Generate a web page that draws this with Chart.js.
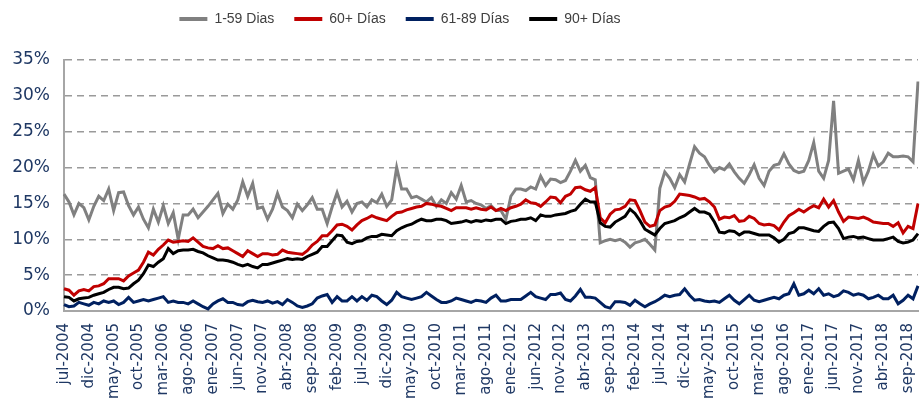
<!DOCTYPE html>
<html>
<head>
<meta charset="utf-8">
<script src="https://cdn.jsdelivr.net/npm/chart.js@4"></script>
<style>
  html, body { margin: 0; padding: 0; background: #fff; }
</style>
</head>
<body>
<canvas id="myChart" width="920" height="409"></canvas>
<script>
// monthly series, jul-2004 .. nov-2018 (values in %)
const meses = ['ene','feb','mar','abr','may','jun','jul','ago','sep','oct','nov','dic'];
const labels = [];
for (let k = 0; k < 173; k++) {
  labels.push(meses[(6 + k) % 12] + '-' + (2004 + Math.floor((6 + k) / 12)));
}

const dias1a59 = [
  16.3,15.2,13.4,15.0,14.4,12.7,14.6,16.0,15.4,17.0,
  14.0,16.5,16.6,14.7,13.4,14.5,12.8,11.6,14.2,12.4,
  14.7,12.2,13.7,10.0,13.4,13.4,14.2,13.0,13.8,14.6,
  15.5,16.4,13.6,14.9,14.2,15.5,18.0,16.0,17.8,14.3,
  14.5,12.8,14.2,16.4,14.5,14.0,13.0,14.9,14.0,14.8,
  15.8,14.2,14.2,12.2,14.5,16.5,14.5,15.3,13.8,15.0,
  15.2,14.5,15.5,15.1,16.3,14.6,15.5,20.0,17.0,17.0,
  15.8,16.0,15.6,15.2,15.8,14.6,15.5,15.0,16.5,15.6,
  17.5,15.2,15.4,15.0,14.8,14.3,14.7,14.0,14.0,12.8,
  16.0,17.0,17.0,16.8,17.3,17.0,18.8,17.5,18.4,18.3,
  17.9,18.2,19.5,21.0,19.5,20.3,18.6,18.3,9.5,9.8,
  10.0,9.8,10.0,9.6,8.9,9.5,9.7,10.0,9.3,8.5,
  17.1,19.4,18.5,17.2,19.0,18.0,20.5,22.9,22.0,21.5,
  20.3,19.4,20.0,19.7,20.5,19.4,18.5,17.8,19.0,20.4,
  18.5,17.5,19.5,20.3,20.5,21.9,20.5,19.6,19.3,19.5,
  21.0,23.5,19.5,18.5,21.0,29.3,19.2,19.5,19.8,18.3,
  21.0,17.9,19.5,21.8,20.2,20.8,22.0,21.5,21.5,21.6,
  21.5,20.8,32.0
];

const dias60mas = [
  3.1,2.9,2.2,2.8,3.0,2.8,3.4,3.5,3.8,4.5,
  4.5,4.5,4.2,4.9,5.3,5.7,6.8,8.2,7.8,8.6,
  9.2,9.9,9.6,9.7,9.8,9.7,10.2,9.6,9.0,8.8,
  8.7,9.1,8.7,8.8,8.4,8.0,7.6,8.4,8.0,7.6,
  8.0,8.0,7.8,7.9,8.5,8.2,8.1,8.0,7.9,8.4,
  9.2,9.7,10.5,10.5,11.2,12.0,12.1,11.8,11.3,12.0,
  12.6,12.9,13.3,13.0,12.8,12.6,13.2,13.7,13.8,14.1,
  14.3,14.5,14.6,15.0,14.9,14.7,14.6,14.3,14.0,14.4,
  14.4,14.4,14.2,14.4,14.2,14.1,14.5,14.0,14.3,14.0,
  14.4,14.6,14.9,15.5,15.1,15.0,14.6,15.2,15.9,15.8,
  15.1,16.0,16.3,17.2,17.3,16.9,16.7,17.2,13.0,12.3,
  13.5,14.1,14.2,14.6,15.5,15.4,14.0,12.4,11.8,12.0,
  14.0,14.5,14.7,15.3,16.3,16.2,16.1,15.9,15.6,15.7,
  15.2,14.5,12.8,13.1,13.0,13.3,12.5,12.6,13.2,12.9,
  12.2,12.0,12.1,11.9,11.3,12.4,13.3,13.7,14.2,13.8,
  14.3,14.7,14.4,15.6,14.5,15.4,13.8,12.5,13.1,13.0,
  12.9,13.1,12.8,12.4,12.3,12.2,12.2,11.8,12.3,10.9,
  11.8,11.5,15.0
];

const dias61a89 = [
  0.9,0.6,0.7,1.2,1.0,0.8,1.2,1.0,1.4,1.2,
  1.4,0.9,1.2,1.9,1.2,1.4,1.6,1.4,1.6,1.8,
  2.0,1.2,1.4,1.2,1.2,1.0,1.4,1.0,0.6,0.3,
  1.0,1.4,1.7,1.2,1.2,0.9,0.8,1.3,1.5,1.3,
  1.2,1.4,1.1,1.3,0.9,1.6,1.2,0.7,0.5,0.7,
  1.0,1.8,2.1,2.3,1.2,2.0,1.4,1.4,2.0,1.4,
  2.0,1.5,2.2,2.0,1.4,0.9,1.5,2.6,2.0,1.8,
  1.6,1.8,2.0,2.6,2.1,1.6,1.2,1.2,1.4,1.8,
  1.6,1.4,1.2,1.5,1.4,1.2,1.8,2.2,1.4,1.4,
  1.6,1.6,1.6,2.1,2.6,2.0,1.8,1.6,2.3,2.3,
  2.5,1.6,1.4,2.1,3.0,1.9,1.9,1.8,1.2,0.6,
  0.4,1.3,1.3,1.2,0.8,1.5,1.0,0.6,1.0,1.3,
  1.7,2.2,2.0,2.2,2.3,3.1,2.2,1.5,1.6,1.4,
  1.3,1.4,1.2,1.7,2.2,1.5,1.0,1.6,2.2,1.5,
  1.3,1.5,1.7,1.9,1.7,2.2,2.4,3.8,2.2,2.4,
  2.9,2.4,3.1,2.2,2.4,2.0,2.2,2.8,2.6,2.2,
  2.4,2.2,1.7,1.9,2.2,1.7,1.7,2.2,1.0,1.5,
  2.2,1.7,3.5
];

const dias90mas = [
  2.0,1.9,1.4,1.7,1.8,1.9,2.2,2.4,2.6,3.0,
  3.3,3.3,3.1,3.2,3.8,4.3,5.2,6.4,6.2,6.8,
  7.3,8.7,8.0,8.4,8.5,8.5,8.6,8.3,8.1,7.7,
  7.4,7.1,7.1,7.0,6.8,6.5,6.3,6.5,6.2,6.0,
  6.5,6.5,6.7,6.9,7.1,7.3,7.2,7.3,7.2,7.6,
  7.9,8.2,9.0,9.0,9.8,10.6,10.5,9.6,9.4,9.7,
  9.8,10.2,10.4,10.4,10.7,10.6,10.5,11.2,11.6,11.9,
  12.1,12.5,12.8,12.6,12.6,12.8,12.8,12.6,12.2,12.3,
  12.4,12.6,12.4,12.6,12.5,12.7,12.6,12.8,12.8,12.2,
  12.5,12.6,12.8,12.8,13.0,12.6,13.4,13.2,13.2,13.4,
  13.5,13.6,13.9,14.1,14.9,15.6,15.2,15.2,12.3,11.8,
  11.7,12.4,12.8,13.2,14.2,13.6,12.6,11.4,11.0,10.6,
  11.5,12.2,12.4,12.6,13.0,13.3,13.8,14.3,13.8,13.8,
  13.5,12.4,11.0,10.9,11.2,11.1,10.6,11.0,11.0,10.8,
  10.6,10.6,10.6,10.2,9.6,10.0,10.8,11.0,11.6,11.6,
  11.4,11.2,11.1,11.8,12.3,12.4,11.5,10.1,10.3,10.4,
  10.2,10.3,10.1,9.9,9.9,9.9,10.1,10.3,9.7,9.5,
  9.6,9.9,10.8
];

const navy = '#1f3864';

// moves the legend up and left, like the original
const legendShift = {
  id: 'legendShift',
  afterLayout(chart) {
    const lg = chart.legend;
    lg.left -= 59; lg.right -= 59;
    lg.top -= 24; lg.bottom -= 24;
  }
};

const ctx = document.getElementById('myChart');
new Chart(ctx, {
  type: 'line',
  data: {
    labels: labels,
    datasets: [
      { label: '1-59 Dias', data: dias1a59, borderColor: '#808080', backgroundColor: '#808080', pointBorderColor: '#808080', order: 4 },
      { label: '60+ Días', data: dias60mas, borderColor: '#c00000', backgroundColor: '#c00000', pointBorderColor: '#c00000', order: 2 },
      { label: '61-89 Días', data: dias61a89, borderColor: '#002060', backgroundColor: '#002060', pointBorderColor: '#002060', order: 3 },
      { label: '90+ Días', data: dias90mas, borderColor: '#000000', backgroundColor: '#000000', pointBorderColor: '#000000', order: 1 }
    ]
  },
  options: {
    responsive: false,
    animation: false,
    layout: { padding: { left: 0, right: 2, top: 16, bottom: 0 } },
    elements: {
      line: { borderWidth: 3, tension: 0, fill: false },
      point: { radius: 0, hoverRadius: 0, borderWidth: 4 }
    },
    plugins: {
      tooltip: { enabled: false },
      legend: {
        position: 'top',
        labels: {
          usePointStyle: true,
          pointStyle: 'line',
          pointStyleWidth: 28,
          padding: 20,
          color: '#404040',
          font: { family: 'Liberation Sans', size: 14 },
          sort: (a, b) => a.datasetIndex - b.datasetIndex
        }
      }
    },
    scales: {
      x: {
        grid: { display: false, drawTicks: false },
        border: { display: true, color: '#a6a6a6', width: 2 },
        ticks: {
          autoSkip: false,
          minRotation: 90,
          maxRotation: 90,
          padding: 12,
          color: navy,
          font: { family: 'DejaVu Sans', size: 15 },
          callback: (v, i) => (i % 5 === 0 ? labels[i] : '')
        },
        afterFit: s => { s.height = 98; s.paddingLeft = 0; s.paddingRight = 0; }
      },
      y: {
        min: 0,
        max: 35,
        grid: {
          drawTicks: false,
          lineWidth: 1.5,
          color: c => (c.tick && c.tick.value === 0 ? 'rgba(0,0,0,0)' : '#9a9a9a')
        },
        border: { display: true, color: '#a6a6a6', width: 2, dash: [7, 5] },
        ticks: {
          stepSize: 5,
          padding: 14,
          color: navy,
          font: { family: 'DejaVu Sans', size: 17 },
          callback: v => v + '%'
        },
        afterFit: s => { s.width = 64; }
      }
    }
  },
  plugins: [legendShift]
});
</script>
</body>
</html>
